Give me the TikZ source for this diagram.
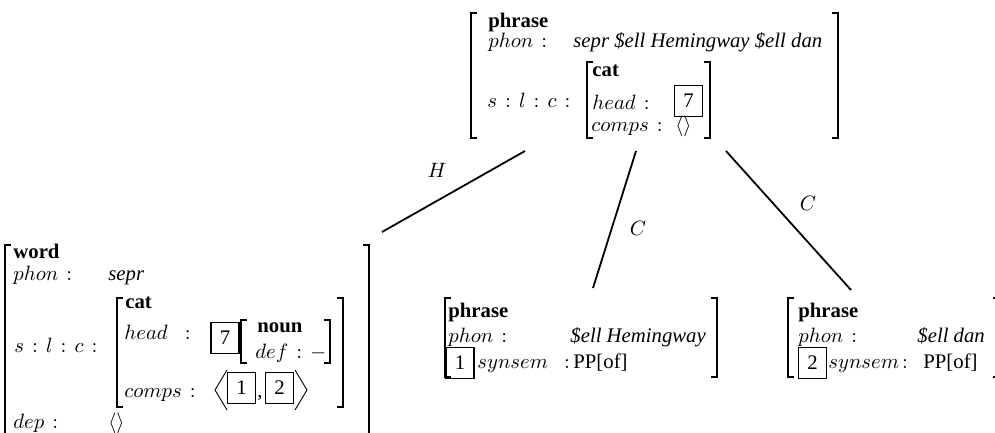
\documentclass[tikz,border=0pt]{standalone}
\usepackage{fontspec}
\setmainfont{Liberation Serif}
\newcommand\avmfont{\fontsize{10}{12}\selectfont\thickmuskip=7mu\relax}
\begin{document}
\begin{tikzpicture}[x=1pt,y=1pt,
  t/.style={inner sep=0pt, anchor=base west, scale=2.074, font=\avmfont},
  tb/.style={t, font=\avmfont\bfseries},
  tagbox/.style={draw, line width=1.6pt, minimum width=28pt, minimum height=31pt, inner sep=0pt, font=\fontsize{20.74}{25}\selectfont},
  brk/.style={line width=1.2pt},
  ang/.style={line width=0.9pt},
  edgeline/.style={line width=1.8pt},
  lab/.style={inner sep=0pt, scale=2.074, font=\avmfont}]
\useasboundingbox (0,0) rectangle (995,-432);
% ---------- root AVM ----------
\draw[brk] (477,-13) -- (471,-13) -- (471,-138) -- (477,-138);
\draw[brk] (832,-13) -- (838,-13) -- (838,-138) -- (832,-138);
\node[tb] (r1) at (488,-27) {phrase};
\node[t] (r2) at (488,-47) {$phon:$};
\node[t] (r3) at (573,-47) {\itshape sepr \$ell Hemingway \$ell dan};
\node[t] (r4) at (487,-107) {$s:l:c:$};
\draw[brk] (593,-62) -- (587,-62) -- (587,-138) -- (593,-138);
\draw[brk] (704,-62) -- (710,-62) -- (710,-138) -- (704,-138);
\node[tb] (r5) at (592,-76) {cat};
\node[t] (r6) at (592,-109) {$head:$};
\node[tagbox] (r7) at (688.5,-101) {7};
\node[t] (r8) at (591,-131) {$comps:$};
\node[t] (r9) at (675,-131) {$\langle\rangle$};
% ---------- word AVM ----------
\draw[brk] (11,-245) -- (5,-245) -- (5,-440);
\draw[brk] (363,-245) -- (369,-245) -- (369,-440);
\node[tb] (w1) at (13,-258) {word};
\node[t] (w2) at (13,-280) {$phon:$};
\node[t] (w3) at (108,-280) {\itshape sepr};
\node[t] (w4) at (14,-352) {$s:l:c:$};
\draw[brk] (123,-298) -- (117,-298) -- (117,-407) -- (123,-407);
\draw[brk] (337,-298) -- (343,-298) -- (343,-407) -- (337,-407);
\node[tb] (w5) at (125,-308) {cat};
\node[t] (w6) at (124,-339) {$head\hspace{4.3pt}:$};
\node[tagbox] (w7) at (225,-338) {7};
\draw[brk] (247,-320) -- (241,-320) -- (241,-363) -- (247,-363);
\draw[brk] (324,-320) -- (330,-320) -- (330,-363) -- (324,-363);
\node[tb] (w8) at (257,-332) {noun};
\node[t] (w9) at (255,-358) {$def:-$};
\node[t] (w10) at (124,-397) {$comps:$};
\draw[ang] (227,-370) -- (215,-390) -- (227,-410);
\node[tagbox] (w12) at (241.5,-388) {1};
\node[t] (w13) at (257,-397) {,};
\node[tagbox] (w14) at (279.5,-388) {2};
\draw[ang] (295,-370) -- (307,-390) -- (295,-410);
\node[t] (w16) at (13,-428) {$dep:$};
\node[t] (w17) at (108,-428) {$\langle\rangle$};
% ---------- middle phrase ----------
\draw[brk] (451,-298) -- (445,-298) -- (445,-377) -- (451,-377);
\draw[brk] (711,-298) -- (717,-298) -- (717,-377) -- (711,-377);
\node[tb] (m1) at (448,-317) {phrase};
\node[t] (m2) at (448,-342) {$phon:$};
\node[t] (m3) at (570,-342) {\itshape \$ell Hemingway};
\node[tagbox] (m4) at (460,-363) {1};
\node[t] (m5) at (477,-368) {$synsem\hspace{3.9pt}:$};
\node[t] (m6) at (573,-368) {PP[of]};
% ---------- right phrase ----------
\draw[brk] (794,-298) -- (788,-298) -- (788,-377) -- (794,-377);
\draw[brk] (993,-298) -- (999,-298) -- (999,-377) -- (993,-377);
\node[tb] (p1) at (798,-317) {phrase};
\node[t] (p2) at (798,-342) {$phon:$};
\node[t] (p3) at (917,-342) {\itshape \$ell dan};
\node[tagbox] (p4) at (812.5,-363) {2};
\node[t] (p5) at (828,-368) {$synsem\hspace{-2.4pt}:$};
\node[t] (p6) at (923,-368) {PP[of]};
% ---------- connectors ----------
\coordinate (rootH) at (525,-151);
\coordinate (rootC1) at (636,-151);
\coordinate (rootC2) at (726,-151);
\coordinate (wordTop) at (382,-232);
\coordinate (midTop) at (593,-288);
\coordinate (rightTop) at (851,-290);
\draw[edgeline] (rootH) -- (wordTop);
\draw[edgeline] (rootC1) -- (midTop);
\draw[edgeline] (rootC2) -- (rightTop);
\node[lab] (lH) at (437,-170) {$H$};
\node[lab] (lC1) at (638,-228) {$C$};
\node[lab] (lC2) at (808,-203) {$C$};
\end{tikzpicture}
\end{document}
